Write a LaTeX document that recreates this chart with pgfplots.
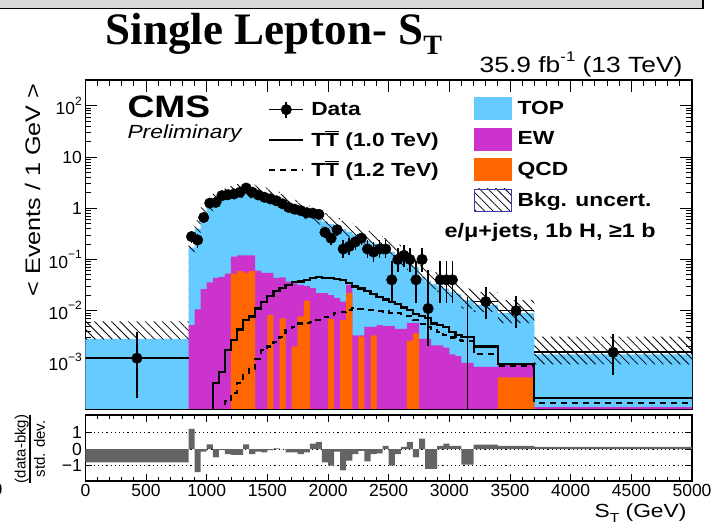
\documentclass[border=0pt]{standalone}
\usepackage{pgfplots}
\pgfplotsset{compat=1.18}
\usepackage{fontspec}
\setmainfont{Liberation Sans}
\newfontfamily\wsans{Liberation Sans}[FakeStretch=1.2]
\newfontfamily\tfont{Liberation Serif}
\usetikzlibrary{patterns.meta}
\definecolor{topc}{RGB}{102,204,255}
\definecolor{ewc}{RGB}{204,51,204}
\definecolor{qcdc}{RGB}{255,102,0}
\definecolor{ratc}{RGB}{100,100,100}
\definecolor{hatchb}{RGB}{60,60,170}
\newcommand{\tsup}[1]{10\raisebox{0.55em}{\fontsize{12}{12}\selectfont #1}}
\newcommand{\Tbar}{\vbox{\hrule height 1.5pt\kern1.6pt\hbox{T}}}
\pgfplotsset{
  rootaxis/.style={
    scale only axis, anchor=south west, width=606.6pt,
    xmin=0, xmax=5000,
    axis line style={line width=1.3pt},
    tick style={black, line width=0.9pt},
    xtick={0,500,...,5000}, minor x tick num=4,
    tick label style={font=\fontsize{17.5}{20}\selectfont},
  },
  legtext/.style={font=\wsans\bfseries\fontsize{19}{21}\selectfont},
}
\begin{document}
\begin{tikzpicture}[x=1pt,y=1pt]
\path[use as bounding box] (0,0) rectangle (712,524);
% title box remnant
\draw[fill=gray!30, line width=1.6pt] (-5,515.5) rectangle (703,530);
\node[anchor=base] at (274,479) {\tfont\bfseries\fontsize{45}{48}\selectfont Single Lepton- S\raisebox{-0.22em}{\fontsize{28}{30}\selectfont T}};
\node[anchor=base east] at (686,451) {\wsans\fontsize{22}{24}\selectfont 35.9 fb\raisebox{0.5em}{\fontsize{14}{14}\selectfont -1} (13 TeV)};

% ---------------- main panel ----------------
\begin{axis}[rootaxis, at={(85.4pt,115pt)}, height=329pt,
  ymode=log, ymin=1.2e-4, ymax=320,
  log origin y=infty,
  major tick length=12pt, minor tick length=6pt,
  ytick={1e-3,1e-2,1e-1,1,10,100},
  yticklabels={\tsup{−3},\tsup{−2},\tsup{−1},1,10,\tsup{2}},
  xticklabels={},
  legend style={at={(0.301,0.944)}, anchor=north west, draw=none, fill=none,
    inner sep=0pt, row sep=8pt, legtext, cells={anchor=west}},
]
% TOP (total stack)
\addplot[forget plot, fill=topc, draw=none, const plot mark left] coordinates {
(0,1e-6) (0,2.8e-3) (850,0.17) (900,0.40) (950,0.72) (1000,1.05) (1050,1.40) (1100,1.65)
(1150,1.85) (1200,1.95) (1250,2.05) (1300,2.05) (1350,2.0) (1400,1.90) (1450,1.75)
(1500,1.60) (1550,1.45) (1600,1.30) (1650,1.15) (1700,1.0) (1750,0.88) (1800,0.78)
(1850,0.70) (1900,0.62) (1950,0.55) (2000,0.49) (2050,0.44) (2100,0.39) (2150,0.35)
(2200,0.31) (2250,0.28) (2300,0.23) (2350,0.205) (2400,0.18) (2450,0.16) (2500,0.14)
(2550,0.115) (2600,0.095) (2650,0.08) (2700,0.07) (2750,0.045) (2800,0.038) (2850,0.033)
(2900,0.030) (2950,0.027) (3000,0.023) (3050,0.021) (3100,0.016) (3200,0.0129)
(3400,0.0089) (3700,1.4e-3) (5000,1.4e-3) (5000,1e-6)};
% EW (+QCD)
\addplot[forget plot, fill=ewc, draw=none, const plot mark left] coordinates {
(850,1e-6) (850,5.2e-3) (900,0.0106) (950,0.0264) (1000,0.0357) (1050,0.0435) (1100,0.0456)
(1150,0.053) (1200,0.113) (1250,0.12) (1300,0.12) (1350,0.12) (1400,0.0606) (1450,0.0547)
(1500,0.0547) (1550,0.0435) (1600,0.0445) (1650,0.037) (1700,0.034) (1750,0.032) (1800,0.030)
(1850,0.0276) (1900,0.0219) (1950,0.0219) (2000,0.020) (2050,0.0176) (2100,0.015) (2150,0.032)
(2200,3.3e-3) (2250,3.3e-3) (2300,4.8e-3) (2350,4.8e-3) (2400,5.2e-3) (2450,5.0e-3)
(2500,5.0e-3) (2550,4.4e-3) (2600,4.4e-3) (2650,5.8e-3) (2700,5.8e-3) (2750,2.8e-3)
(2800,2.8e-3) (2850,2.1e-3) (2900,2.1e-3) (2950,1.9e-3) (3000,1.4e-3) (3050,1.3e-3)
(3100,9.5e-4) (3200,8e-4) (3400,9e-4) (3700,1.3e-4) (5000,1.3e-4) (5000,1e-6)};
% QCD
\addplot[forget plot, fill=qcdc, draw=none, const plot mark left] coordinates {
(1200,1e-6) (1200,0.053) (1250,0.059) (1300,0.055) (1350,0.059) (1400,1e-6) (1500,8.2e-3)
(1550,1e-6) (1600,7.1e-3) (1650,1e-6) (1700,2e-3) (1750,7.7e-3) (1800,0.0157) (1850,1e-6)
(2000,6.8e-3) (2050,1e-6) (2100,6.5e-3) (2150,0.022) (2200,1e-6) (2250,3.1e-3) (2300,1e-6)
(2350,3.3e-3) (2400,1e-6) (2650,2.6e-3) (2700,3.6e-3) (2750,1e-6) (3400,5e-4) (3700,1e-6)};
% background uncertainty band
\addplot[forget plot, draw=none, pattern={Lines[angle=-45,distance=6pt,line width=0.8pt]}, pattern color=black, const plot mark left] coordinates {
(0,6.2e-3) (850,0.247) (900,0.58) (950,1.04) (1000,1.52) (1050,2.03) (1100,2.39) (1150,2.68)
(1200,2.83) (1250,2.97) (1300,2.97) (1350,2.9) (1400,2.76) (1450,2.54) (1500,2.32) (1550,2.10)
(1600,1.89) (1650,1.67) (1700,1.45) (1750,1.28) (1800,1.13) (1850,1.02) (1900,0.90) (1950,0.80)
(2000,0.71) (2050,0.64) (2100,0.57) (2150,0.51) (2200,0.45) (2250,0.41) (2300,0.36) (2350,0.33)
(2400,0.29) (2450,0.26) (2500,0.235) (2550,0.195) (2600,0.16) (2650,0.136) (2700,0.119)
(2750,0.077) (2800,0.065) (2850,0.056) (2900,0.051) (2950,0.046) (3000,0.039) (3050,0.036)
(3100,0.027) (3200,0.023) (3400,0.016) (3700,3.1e-3) (5000,3.1e-3)
(5000,8.9e-4) (3700,5.7e-3) (3400,9.5e-3) (3200,0.011) (3100,0.016) (3050,0.018) (3000,0.021)
(2950,0.023) (2900,0.026) (2850,0.030) (2800,0.035) (2750,0.055) (2700,0.062) (2650,0.074)
(2600,0.09) (2550,0.11) (2500,0.125) (2450,0.14) (2400,0.16) (2350,0.18) (2300,0.22) (2250,0.24)
(2200,0.27) (2150,0.30) (2100,0.34) (2050,0.38) (2000,0.43) (1950,0.48) (1900,0.55) (1850,0.61)
(1800,0.69) (1750,0.78) (1700,0.90) (1650,1.01) (1600,1.13) (1550,1.25) (1500,1.37) (1450,1.48)
(1400,1.56) (1350,1.60) (1300,1.60) (1250,1.52) (1200,1.44) (1150,1.29) (1100,1.09) (1050,0.82)
(1000,0.56) (950,0.31) (900,0.133) (850,2.75e-3) (0,2.75e-3)};
% T Tbar 1.0 TeV
\addplot[forget plot, black, line width=2.2pt, const plot mark left] coordinates {
(1050,1e-6) (1050,3.9e-4) (1100,6.3e-4) (1150,1.7e-3) (1200,2.7e-3) (1250,4.3e-3) (1300,6.6e-3)
(1350,7.7e-3) (1400,0.011) (1450,0.015) (1500,0.019) (1550,0.024) (1600,0.0276) (1650,0.032)
(1700,0.036) (1750,0.037) (1800,0.039) (1850,0.0435) (1900,0.045) (1950,0.044) (2000,0.0435)
(2050,0.041) (2100,0.039) (2150,0.035) (2200,0.0297) (2250,0.027) (2300,0.024) (2350,0.021)
(2400,0.0185) (2450,0.0165) (2500,0.015) (2550,0.0135) (2600,0.0115) (2650,0.0104)
(2700,8.5e-3) (2750,7.8e-3) (2800,7.1e-3) (2850,5.6e-3) (2900,5.2e-3) (2950,4.8e-3)
(3000,3.8e-3) (3050,3.4e-3) (3100,3.1e-3) (3200,2.0e-3) (3400,9.2e-4) (3700,2.0e-4) (5000,2.0e-4)};
% T Tbar 1.2 TeV
\addplot[forget plot, black, line width=2.2pt, dash pattern=on 6pt off 5pt, const plot mark left] coordinates {
(1150,1e-6) (1150,1.7e-4) (1200,2.5e-4) (1250,3.9e-4) (1300,6e-4) (1350,7.2e-4) (1400,1.15e-3)
(1450,1.7e-3) (1500,2e-3) (1550,2.45e-3) (1600,3.1e-3) (1650,4.2e-3) (1700,4.8e-3) (1750,5.6e-3)
(1800,5.8e-3) (1850,6.1e-3) (1900,6.6e-3) (1950,7.4e-3) (2000,8.2e-3) (2050,9.1e-3) (2100,9.4e-3)
(2150,0.0104) (2200,0.0112) (2250,0.0108) (2300,0.0104) (2350,0.0104) (2400,0.010) (2450,9.6e-3)
(2500,9.1e-3) (2550,8.9e-3) (2600,8.5e-3) (2650,8.0e-3) (2700,6.5e-3) (2750,5.5e-3) (2800,4.8e-3)
(2850,4.5e-3) (2900,3.8e-3) (2950,3.3e-3) (3000,3.0e-3) (3050,2.7e-3) (3100,2.6e-3) (3200,1.4e-3)
(3400,8.5e-4) (3700,1.6e-4) (5000,1.6e-4)};
% data
\addplot[forget plot, black, only marks, mark=*, mark size=5.3pt, mark options={fill=black},
  error bars/.cd, x dir=both, x explicit, y dir=both, y explicit,
  error bar style={line width=1.6pt, black}, error mark=none]
  table[x=x, y=y, x error=ex, y error minus=em, y error plus=ep] {
x y ex em ep
425 1.18e-3 425 9.8e-4 2.7e-3
875 0.28 25 0.075 0.075
925 0.24 25 0.069 0.069
975 0.66 25 0.115 0.115
1025 1.26 25 0.159 0.159
1075 1.30 25 0.161 0.161
1125 1.76 25 0.188 0.188
1175 1.84 25 0.192 0.192
1225 1.90 25 0.195 0.195
1275 2.06 25 0.203 0.203
1325 2.48 25 0.223 0.223
1375 2.06 25 0.203 0.203
1425 1.82 25 0.191 0.191
1475 1.64 25 0.181 0.181
1525 1.52 25 0.174 0.174
1575 1.40 25 0.167 0.167
1625 1.22 25 0.156 0.156
1675 1.04 25 0.144 0.144
1725 0.96 25 0.139 0.139
1775 0.90 25 0.134 0.134
1825 0.82 25 0.128 0.128
1875 0.80 25 0.126 0.126
1925 0.76 25 0.123 0.123
1975 0.34 25 0.082 0.082
2025 0.26 25 0.072 0.072
2075 0.38 25 0.087 0.087
2125 0.16 25 0.055 0.079
2175 0.18 25 0.059 0.082
2225 0.22 25 0.066 0.066
2275 0.26 25 0.072 0.072
2325 0.16 25 0.055 0.079
2375 0.14 25 0.052 0.075
2425 0.16 25 0.055 0.079
2475 0.16 25 0.055 0.079
2525 0.04 25 0.026 0.053
2575 0.10 25 0.043 0.068
2625 0.12 25 0.048 0.072
2675 0.10 25 0.043 0.068
2725 0.04 25 0.026 0.053
2775 0.10 25 0.043 0.068
2825 0.011 25 0.009 0.05
2925 0.04 25 0.026 0.053
2975 0.04 25 0.026 0.053
3025 0.04 25 0.026 0.053
3300 0.015 100 0.0082 0.0146
3550 0.01 150 0.0054 0.0097
4350 1.54e-3 650 9.9e-4 2.03e-3
};
\addplot[forget plot, black, line width=1.6pt] coordinates {(3150,1e-6) (3150,0.0184)};
% left legend column
\addlegendimage{legend image code/.code={
  \draw[black, line width=1.6pt] (0pt,0pt) -- (34pt,0pt);
  \draw[black, line width=1.6pt] (17pt,-8pt) -- (17pt,8pt);
  \draw[black, mark size=5.3pt, mark options={fill=black}] plot coordinates {(17pt,0pt)};
  \path[draw=none, fill=none] (0pt,-11pt) -- (40pt,11pt);}, mark=*}
\addlegendentry{Data}
\addlegendimage{legend image code/.code={\draw[black, line width=2.2pt] (0pt,0pt) -- (34pt,0pt); \path[draw=none, fill=none] (0pt,-11pt) -- (40pt,11pt);}}
\addlegendentry{T\Tbar\ (1.0 TeV)}
\addlegendimage{legend image code/.code={\draw[black, line width=2.2pt, dash pattern=on 6pt off 5pt] (0pt,0pt) -- (34pt,0pt); \path[draw=none, fill=none] (0pt,-11pt) -- (40pt,11pt);}}
\addlegendentry{T\Tbar\ (1.2 TeV)}
\end{axis}

% legend: right column (overlay axis)
\begin{axis}[at={(85.4pt,115pt)}, anchor=south west, scale only axis, width=606.6pt, height=329pt,
  hide axis, xmin=0, xmax=1, ymin=0, ymax=1,
  legend style={at={(0.6406,0.948)}, anchor=north west, draw=none, fill=none,
    inner sep=0pt, row sep=8pt, legtext, cells={anchor=west}}]
\addlegendimage{legend image code/.code={\fill[topc] (0pt,-11pt) rectangle (37pt,11pt); \path[draw=none, fill=none] (0pt,-11pt) -- (41pt,11pt);}}
\addlegendentry{TOP}
\addlegendimage{legend image code/.code={\fill[ewc] (0pt,-11pt) rectangle (37pt,11pt); \path[draw=none, fill=none] (0pt,-11pt) -- (41pt,11pt);}}
\addlegendentry{EW}
\addlegendimage{legend image code/.code={\fill[qcdc] (0pt,-11pt) rectangle (37pt,11pt); \path[draw=none, fill=none] (0pt,-11pt) -- (41pt,11pt);}}
\addlegendentry{QCD}
\addlegendimage{legend image code/.code={\draw[hatchb, line width=0.9pt, pattern={Lines[angle=-45,distance=6pt,line width=0.8pt]}, pattern color=black] (0pt,-11pt) rectangle (37pt,11pt); \path[draw=none, fill=none] (0pt,-11pt) -- (41pt,11pt);}}
\addlegendentry{Bkg. uncert.}
\end{axis}

\node[anchor=west] at (441,292) {\wsans\bfseries\fontsize{19.5}{21}\selectfont e/μ+jets, 1b H, ≥1 b};
\node[anchor=base west] at (124,406) {\wsans\bfseries\fontsize{31}{34}\selectfont CMS};
\node[anchor=base west] at (124,385) {\wsans\itshape\fontsize{19}{22}\selectfont Preliminary};
\node[rotate=90, anchor=base east] at (40,444) {\wsans\fontsize{21}{24}\selectfont < Events / 1 GeV >};

% ---------------- ratio panel ----------------
\begin{axis}[rootaxis, at={(85.4pt,43pt)}, height=66pt,
  ymin=-1.95, ymax=2.1, ytick={-1,0,1}, yticklabels={−1,0,1},
  major tick length=7pt, minor tick length=4pt,
  xticklabels={0,500,1000,1500,2000,2500,3000,3500,4000,4500,5000},
  ymajorgrids, grid style={black, line width=1.1pt, dash pattern=on 1.2pt off 3pt},
]
\addplot[fill=ratc, draw=none, const plot mark left] coordinates {
(0,0) (0,-0.8) (850,1.25) (900,-1.4) (950,-0.15) (1000,0.3) (1050,-0.5) (1100,-0.05) (1150,-0.3)
(1200,-0.35) (1250,-0.35) (1300,0.3) (1350,-0.3) (1400,-0.15) (1450,-0.2) (1500,-0.05) (1550,0.05)
(1600,0.0) (1650,-0.2) (1700,-0.2) (1750,-0.3) (1800,-0.2) (1850,0.35) (1900,0.45) (1950,-0.8)
(2000,-1.0) (2050,-0.15) (2100,-1.3) (2150,-0.7) (2200,-0.3) (2250,-0.1) (2300,-0.75) (2350,-0.3)
(2400,-0.25) (2450,0.2) (2500,-1.0) (2550,-0.3) (2600,0.15) (2650,0.45) (2700,-0.5) (2750,0.65)
(2800,-1.2) (2850,-1.2) (2900,0.2) (2950,0.35) (3000,0.2) (3050,0.2) (3100,-0.95) (3200,0.28)
(3400,0.2) (3700,0.15) (5000,0.15) (5000,0)};
\end{axis}
\node[rotate=90] at (32,75) {\fontsize{15}{16}\selectfont\begin{tabular}{@{}c@{}}(data-bkg)\\[-1pt]\noalign{\hrule height 1.6pt}\rule{0pt}{14pt}std. dev.\end{tabular}};
\node[anchor=base east] at (690,6) {\wsans\fontsize{19}{22}\selectfont S\raisebox{-0.25em}{\fontsize{13}{14}\selectfont T} (GeV)};
\node[anchor=base east] at (6,28) {\fontsize{17.5}{20}\selectfont 0};
\end{tikzpicture}
\end{document}
